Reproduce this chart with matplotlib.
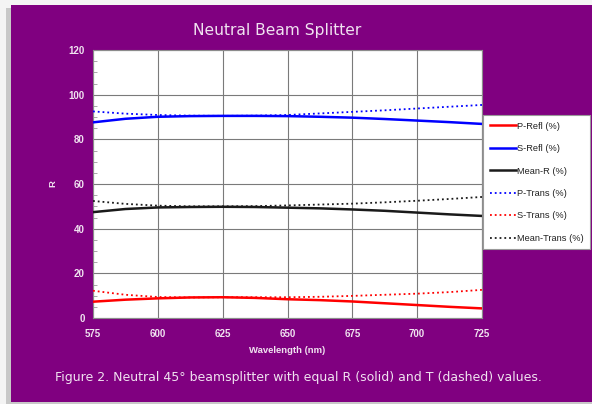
"""Neutral beam splitter: reflectance and transmission vs wavelength."""
import matplotlib
matplotlib.use("Agg")
import matplotlib.pyplot as plt
from matplotlib.patches import Rectangle
from matplotlib.ticker import MultipleLocator

# values (%)
wavelength = [575, 587.5, 600, 612.5, 625, 637.5, 650, 662.5, 675, 687.5, 700, 712.5, 725]
p_refl     = [7.3, 8.2, 8.8, 9.2, 9.3, 9.0, 8.4, 8.0, 7.4, 6.6, 5.8, 5.0, 4.3]
s_refl     = [87.6, 89.2, 90.1, 90.4, 90.5, 90.5, 90.4, 90.1, 89.7, 89.1, 88.4, 87.7, 86.9]
mean_r     = [47.4, 48.8, 49.5, 49.7, 49.8, 49.7, 49.4, 49.1, 48.6, 48.0, 47.2, 46.4, 45.7]
p_trans    = [92.5, 91.5, 90.9, 90.6, 90.5, 90.6, 90.9, 91.6, 92.3, 93.0, 93.8, 94.6, 95.4]
s_trans    = [12.2, 10.4, 9.4, 9.2, 9.3, 9.3, 9.3, 9.5, 9.9, 10.4, 10.9, 11.6, 12.6]
mean_trans = [52.4, 51.1, 50.3, 50.0, 50.0, 50.1, 50.4, 50.8, 51.2, 51.8, 52.5, 53.3, 54.2]
x_ticks = [575, 600, 625, 650, 675, 700, 725]

PURPLE = "#800080"
PALE = "#f0e2f0"

fig = plt.figure(figsize=(5.92, 4.04), dpi=100, facecolor="#f4f4f4")
# shadow + purple panel, kept behind the axes
fig.patches.append(Rectangle((6 / 592, 0.0), 1.0, 1 - 8 / 404, transform=fig.transFigure,
                             facecolor="#c8c8c8", edgecolor="none", zorder=-10))
fig.patches.append(Rectangle((11 / 592, 2 / 404), 1.0, 1 - 7 / 404, transform=fig.transFigure,
                             facecolor=PURPLE, edgecolor="none", zorder=-9))

ax = fig.add_axes([93 / 592, 1 - 318 / 404, 389 / 592, 268 / 404])
ax.set_facecolor("white")

series = [
    ("P-Refl (%)", p_refl, "red", "-", 1.8),
    ("S-Refl (%)", s_refl, "blue", "-", 1.8),
    ("Mean-R (%)", mean_r, "#1a1a1a", "-", 1.8),
    ("P-Trans (%)", p_trans, "blue", ":", 1.3),
    ("S-Trans (%)", s_trans, "red", ":", 1.3),
    ("Mean-Trans (%)", mean_trans, "#1a1a1a", ":", 1.3),
]
for label, vals, col, ls, lw in series:
    ax.plot(wavelength, vals, color=col, ls=ls, lw=lw, label=label, zorder=3)

ax.set_xlim(575, 725)
ax.set_ylim(0, 120)
ax.set_xticks(x_ticks)
ax.yaxis.set_major_locator(MultipleLocator(20))
ax.yaxis.set_minor_locator(MultipleLocator(5))
ax.grid(True, which="major", color="#7a7a7a", lw=0.8)
for s in ax.spines.values():
    s.set_color("#8c8c8c")
ax.tick_params(which="major", length=0, labelcolor=PALE, labelsize=7)
ax.tick_params(axis="x", pad=8)
ax.tick_params(axis="y", pad=6)
ax.tick_params(axis="y", which="minor", direction="in", length=3, color="#999999")
for t in ax.get_xticklabels() + ax.get_yticklabels():
    t.set_fontfamily("Liberation Sans")
    t.set_fontweight("bold")

ax.set_xlabel("Wavelength (nm)", color=PALE, fontsize=6.8, fontweight="bold",
              family="Liberation Sans", labelpad=5)
ax.set_ylabel("R", color=PALE, fontsize=6.8, fontweight="bold",
              family="Liberation Sans", rotation=90, labelpad=8)

fig.text(277 / 592, 1 - 30 / 404, "Neutral Beam Splitter", color=PALE, fontsize=11.2,
         ha="center", va="center", family="DejaVu Sans")
fig.text(298 / 592, 1 - 377 / 404,
         "Figure 2. Neutral 45\u00b0 beamsplitter with equal R (solid) and T (dashed) values.",
         color=PALE, fontsize=9, ha="center", va="center", family="DejaVu Sans")

leg = fig.legend(loc="upper left", bbox_to_anchor=(483 / 592, 1 - 115 / 404),
                 prop={"family": "Liberation Sans", "size": 6.7}, frameon=True,
                 fancybox=False, edgecolor="#999999", framealpha=1,
                 labelspacing=1.45, handlelength=2.8, handletextpad=0.15,
                 borderpad=0.7, borderaxespad=0)
leg.get_frame().set_linewidth(0.8)
for txt in leg.get_texts():
    txt.set_color("#222222")

fig.savefig("out.png", dpi=100, facecolor=fig.get_facecolor())
